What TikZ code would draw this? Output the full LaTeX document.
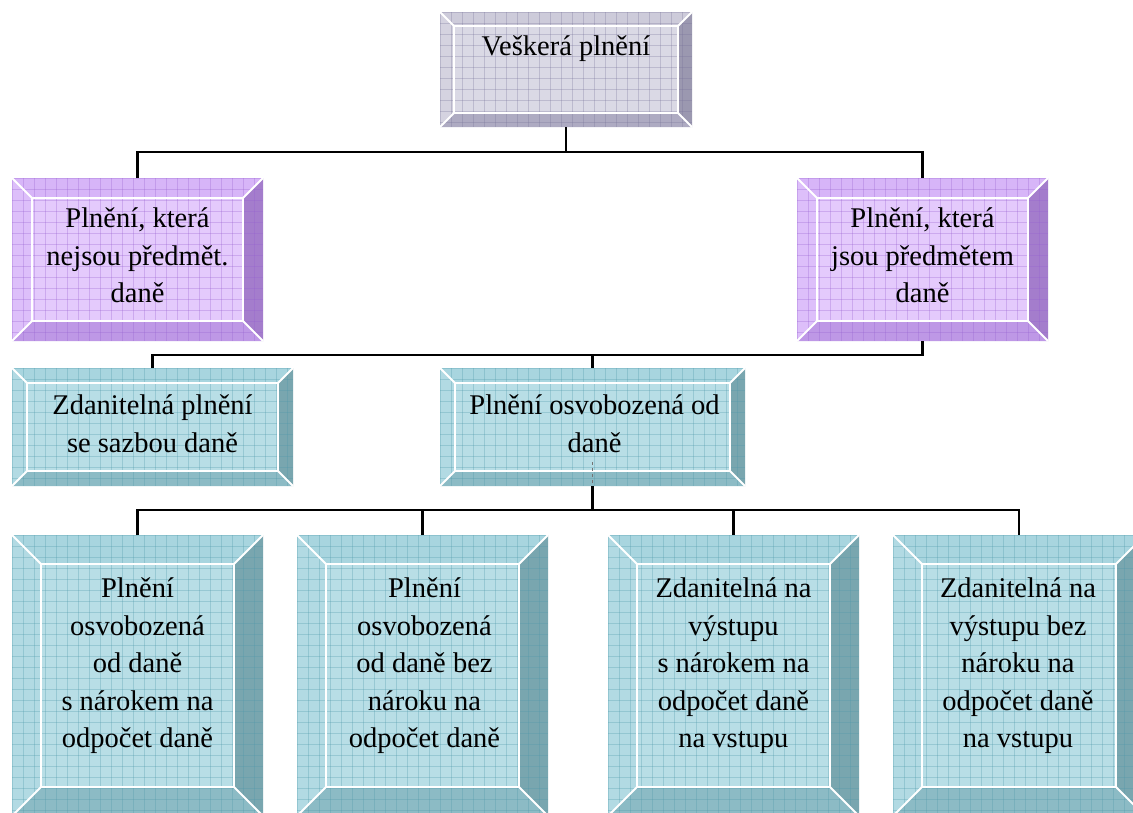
\documentclass[tikz,border=0pt]{standalone}
\usepackage{fontspec}
\setmainfont{Liberation Serif}
\usetikzlibrary{calc}
% grey palette
\definecolor{gFace}{HTML}{DAD9E5}
\definecolor{gTop}{HTML}{CDCBDA}
\definecolor{gLeft}{HTML}{D5D3E0}
\definecolor{gRight}{HTML}{9B98B0}
\definecolor{gBot}{HTML}{AEABC2}
\definecolor{gGrid}{HTML}{77739A}
% purple palette
\definecolor{pFace}{HTML}{E4CAFC}
\definecolor{pTop}{HTML}{D7B5F8}
\definecolor{pLeft}{HTML}{DDBFFA}
\definecolor{pRight}{HTML}{A47DCC}
\definecolor{pBot}{HTML}{BE98E6}
\definecolor{pGrid}{HTML}{9560D0}
% teal palette
\definecolor{tFace}{HTML}{B8DEE6}
\definecolor{tTop}{HTML}{A8D5DF}
\definecolor{tLeft}{HTML}{B2DAE3}
\definecolor{tRight}{HTML}{79A6AF}
\definecolor{tBot}{HTML}{8CBBC5}
\definecolor{tGrid}{HTML}{4E98AA}
\tikzset{
  boxarea/.style={rectangle, inner sep=0pt, outer sep=0pt, draw=none},
  txt/.style={inner sep=0pt, outer sep=0pt, align=center, anchor=north,
    font=\fontsize{28.5}{37.5}\selectfont},
  conn/.style={draw=black, line width=2.6pt},
  gridline/.style={line width=0.9pt, opacity=0.3},
  bevline/.style={draw=white, line width=1.8pt}
}
% #1 name, #2 x1, #3 y1, #4 x2, #5 y2, #6 bevel, #7 palette
\newcommand\bevelbox[7]{%
  \pgfmathsetmacro\bxa{#2+#6}\pgfmathsetmacro\bya{#3+#6}%
  \pgfmathsetmacro\bxb{#4-#6}\pgfmathsetmacro\byb{#5-#6}%
  \pgfmathsetmacro\gsx{#2+11}\pgfmathsetmacro\gsy{#3+11}%
  \fill[#7Face] (#2,#3) rectangle (#4,#5);
  \fill[#7Top] (#2,#3) -- (#4,#3) -- (\bxb,\bya) -- (\bxa,\bya) -- cycle;
  \fill[#7Left] (#2,#3) -- (\bxa,\bya) -- (\bxa,\byb) -- (#2,#5) -- cycle;
  \fill[#7Right] (#4,#3) -- (#4,#5) -- (\bxb,\byb) -- (\bxb,\bya) -- cycle;
  \fill[#7Bot] (#2,#5) -- (#4,#5) -- (\bxb,\byb) -- (\bxa,\byb) -- cycle;
  \begin{scope}
    \clip (#2,#3) rectangle (#4,#5);
    \foreach \gx in {#2,\gsx,...,#4} {\draw[gridline,#7Grid] (\gx,#3) -- (\gx,#5);}
    \foreach \gy in {#3,\gsy,...,#5} {\draw[gridline,#7Grid] (#2,\gy) -- (#4,\gy);}
  \end{scope}
  \draw[bevline] (\bxa,\bya) rectangle (\bxb,\byb);
  \draw[bevline] (#2,#3) -- (\bxa,\bya) (#4,#3) -- (\bxb,\bya)
                 (#2,#5) -- (\bxa,\byb) (#4,#5) -- (\bxb,\byb);
  \node[boxarea, minimum width={#4-#2}, minimum height={#5-#3}]
       (#1) at ({(#2+#4)/2},{(#3+#5)/2}) {};
}
\begin{document}
\begin{tikzpicture}[x=1pt,y=-1pt]
\useasboundingbox (0,0) rectangle (1133,812);
\fill[white] (0,0) rectangle (1133,812);
\clip (0,0) rectangle (1133,812);

% boxes
\bevelbox{top}{440}{12}{692}{127}{14}{g}
\bevelbox{lp}{12}{178}{263}{341}{20}{p}
\bevelbox{rp}{797}{178}{1048}{341}{20}{p}
\bevelbox{zl}{12}{368}{293}{486}{15}{t}
\bevelbox{zm}{440}{368}{745}{486}{15}{t}
\bevelbox{b1}{12}{535}{263}{816}{29}{t}
\bevelbox{b2}{297}{535}{548}{816}{29}{t}
\bevelbox{b3}{608}{535}{859}{816}{29}{t}
\bevelbox{b4}{893}{535}{1145}{816}{29}{t}

% texts
\node[txt] (topT) at ($(top.north)+(0,24)$) {Veškerá plnění};
\node[txt] (lpT) at ($(lp.north)+(0,30)$) {Plnění, která\\nejsou předmět.\\daně};
\node[txt] (rpT) at ($(rp.north)+(0,30)$) {Plnění, která\\jsou předmětem\\daně};
\node[txt] (zlT) at ($(zl.north)+(0,27)$) {Zdanitelná plnění\\se sazbou daně};
\node[txt] (zmT) at ($(zm.north)+(2,27)$) {Plnění osvobozená od\\daně};
\node[txt] (b1T) at ($(b1.north)+(0,43)$) {Plnění\\osvobozená\\od daně\\s nárokem na\\odpočet daně};
\node[txt] (b2T) at ($(b2.north)+(2,43)$) {Plnění\\osvobozená\\od daně bez\\nároku na\\odpočet daně};
\node[txt] (b3T) at ($(b3.north)+(0,43)$) {Zdanitelná na\\výstupu\\s nárokem na\\odpočet daně\\na vstupu};
\node[txt] (b4T) at ($(b4.north)+(-1,43)$) {Zdanitelná na\\výstupu bez\\nároku na\\odpočet daně\\na vstupu};

% connectors
\coordinate (j1) at ($(top.south)+(0,25)$);
\draw[conn] (top.south) -- (j1);
\draw[conn] (lp.north) |- (j1) -| (rp.north);

\coordinate (j2) at ($(rp.south)+(0,14)$);
\draw[conn] (rp.south) -- (j2) -| (zl.north);
\draw[conn] (j2 -| zm.north) -- (zm.north);

\coordinate (j3) at ($(zm.south)+(0,24)$);
\draw[dashed, line width=1pt, black!55] ($(zm.south)+(0,-24)$) -- (zm.south);
\draw[conn] (zm.south) -- (j3);
\draw[conn] (b1.north) |- (j3) -| (b4.north);
\draw[conn] (j3 -| b2.north) -- (b2.north);
\draw[conn] (j3 -| b3.north) -- (b3.north);
\end{tikzpicture}
\end{document}
